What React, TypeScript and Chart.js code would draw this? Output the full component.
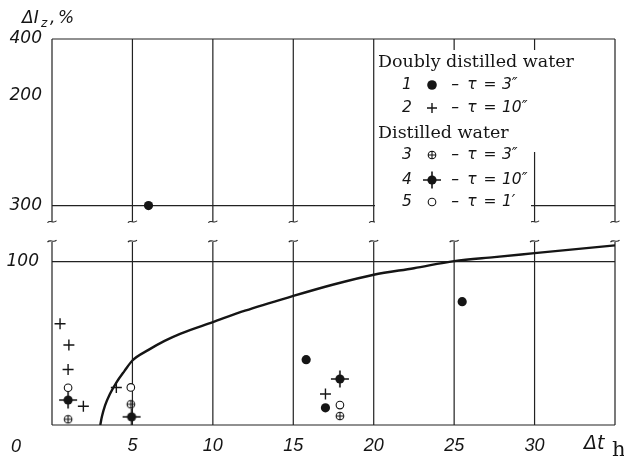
import { useEffect, useRef } from "react";
import { Chart, registerables } from "chart.js";

Chart.register(...registerables);

// ---------- data ----------
const xTickValues = [5, 10, 15, 20, 25, 30];
const gridXValues = [0, 5, 10, 15, 20, 25, 30, 35];
const lowerTickValues = [100];
const lowerTickLabels = ["100"];
const upperTickValues = [300, 366, 400];
const upperTickLabels = ["300", "200", "400"];

const curveX = [3.0, 3.1, 3.3, 3.6, 4.0, 4.5, 5, 6, 7, 8, 10, 12, 15, 17.5, 20, 22.5, 25, 27.5, 30, 35];
const curveY = [0, 5, 12, 19, 26, 33, 39.5, 46, 51.5, 56, 63, 70, 79, 86, 92, 96, 100.3, 102.8, 105.2, 110];

// 1: doubly distilled, tau = 3"
const s1X = [15.8, 17.0, 25.5];
const s1Y = [40, 10.5, 75.5];
const s1UpperX = [6];
const s1UpperY = [300];
// 2: doubly distilled, tau = 10"
const s2X = [0.5, 1.05, 1.0, 1.95, 4.0, 17.0];
const s2Y = [62, 49, 34, 11.5, 23, 19];
// 3: distilled, tau = 3"
const s3X = [1.0, 4.9, 17.9];
const s3Y = [3.5, 12.7, 5.5];
// 4: distilled, tau = 10"
const s4X = [1.0, 4.95, 17.9];
const s4Y = [15.3, 5.0, 28.2];
// 5: distilled, tau = 1'
const s5X = [1.0, 4.9, 17.9];
const s5Y = [22.8, 23, 12.2];

const legendGroups = ["Doubly distilled water", "Distilled water"];
const legendNums = ["1", "2", "3", "4", "5"];
const legendTaus = ["3\u2033", "10\u2033", "3\u2033", "10\u2033", "1\u2032"];

const INK = "#151515";

function pts(xs: number[], ys: number[]) {
  return xs.map((x, i) => ({ x, y: ys[i] }));
}

function makeOPlus(): HTMLCanvasElement {
  const c = document.createElement("canvas");
  c.width = 12;
  c.height = 12;
  const g = c.getContext("2d")!;
  g.strokeStyle = INK;
  g.lineWidth = 1.1;
  g.beginPath();
  g.arc(6, 6, 3.8, 0, Math.PI * 2);
  g.moveTo(2.2, 6);
  g.lineTo(9.8, 6);
  g.moveTo(6, 2.2);
  g.lineTo(6, 9.8);
  g.stroke();
  return c;
}

function makeStar(): HTMLCanvasElement {
  const c = document.createElement("canvas");
  c.width = 20;
  c.height = 20;
  const g = c.getContext("2d")!;
  g.fillStyle = INK;
  g.strokeStyle = INK;
  g.beginPath();
  g.arc(10, 10, 4.6, 0, Math.PI * 2);
  g.fill();
  g.lineWidth = 1.6;
  g.beginPath();
  g.moveTo(1, 10);
  g.lineTo(19, 10);
  g.moveTo(10, 1.5);
  g.lineTo(10, 18.5);
  g.stroke();
  return c;
}

function tilde(ctx: CanvasRenderingContext2D, x: number, y: number) {
  ctx.beginPath();
  ctx.moveTo(x - 4.5, y + 1);
  ctx.bezierCurveTo(x - 2, y - 2.5, x + 1.5, y + 2.5, x + 4.5, y - 1);
  ctx.stroke();
}

export default function App() {
  const ref = useRef<HTMLCanvasElement | null>(null);

  useEffect(() => {
    const canvas = ref.current;
    if (!canvas) return;
    const oplus = makeOPlus();
    const star = makeStar();

    const framePlugin = {
      id: "frame",
      beforeDraw(chart: any) {
        const { ctx } = chart;
        ctx.save();
        ctx.fillStyle = "#fff";
        ctx.fillRect(0, 0, chart.width, chart.height);
        ctx.restore();
      },
      beforeDatasetsDraw(chart: any) {
        const { ctx } = chart;
        const x = chart.scales.x;
        const yUp = chart.scales.yUp;
        const yLow = chart.scales.yLow;
        const xs = gridXValues.map((v) => x.getPixelForValue(v));
        const upTop = yUp.getPixelForValue(400);
        const up300 = yUp.getPixelForValue(300);
        const upBottom = yUp.bottom - 3;
        const lowTop = yLow.getPixelForValue(112);
        const low100 = yLow.getPixelForValue(100);
        const low0 = yLow.getPixelForValue(0);
        const left = xs[0];
        const right = xs[xs.length - 1];
        ctx.save();
        ctx.strokeStyle = "#222";
        ctx.lineWidth = 1.2;
        ctx.beginPath();
        // upper panel
        ctx.moveTo(left, upTop);
        ctx.lineTo(right, upTop);
        ctx.moveTo(left, up300);
        ctx.lineTo(right, up300);
        xs.forEach((px) => {
          ctx.moveTo(px, upTop);
          ctx.lineTo(px, upBottom);
        });
        // lower panel
        ctx.moveTo(left, low100);
        ctx.lineTo(right, low100);
        ctx.moveTo(left, low0);
        ctx.lineTo(right, low0);
        xs.forEach((px) => {
          ctx.moveTo(px, lowTop);
          ctx.lineTo(px, low0);
        });
        ctx.stroke();
        ctx.lineWidth = 1.1;
        xs.forEach((px) => {
          tilde(ctx, px, upBottom);
          tilde(ctx, px, lowTop - 1);
        });
        ctx.restore();
      },
      afterDatasetsDraw(chart: any) {
        const { ctx } = chart;
        ctx.save();
        // legend background
        ctx.fillStyle = "#fff";
        ctx.fillRect(375, 50, 230, 102);
        ctx.fillRect(375, 150, 156, 77);

        ctx.fillStyle = INK;
        ctx.textBaseline = "middle";
        ctx.textAlign = "left";
        ctx.font = "17.5px 'DejaVu Serif'";
        ctx.fillText(legendGroups[0], 378, 62);
        ctx.fillText(legendGroups[1], 378, 133);

        const rowsY = [85, 108, 155, 180, 202];
        ctx.font = "italic 15.5px 'DejaVu Sans'";
        rowsY.forEach((ry, i) => {
          ctx.textAlign = "center";
          ctx.fillText(legendNums[i], 407, ry);
          // marker
          const mx = 432;
          if (i === 0) {
            ctx.beginPath();
            ctx.arc(mx, ry, 4.8, 0, Math.PI * 2);
            ctx.fill();
          } else if (i === 1) {
            ctx.beginPath();
            ctx.lineWidth = 1.4;
            ctx.strokeStyle = INK;
            ctx.moveTo(mx - 5, ry);
            ctx.lineTo(mx + 5, ry);
            ctx.moveTo(mx, ry - 5);
            ctx.lineTo(mx, ry + 5);
            ctx.stroke();
          } else if (i === 2) {
            ctx.drawImage(oplus, mx - 6, ry - 6);
          } else if (i === 3) {
            ctx.drawImage(star, mx - 10, ry - 10);
          } else {
            ctx.beginPath();
            ctx.lineWidth = 1.1;
            ctx.strokeStyle = INK;
            ctx.arc(mx, ry, 3.8, 0, Math.PI * 2);
            ctx.stroke();
          }
          ctx.fillText("\u2013", 455, ry);
          ctx.fillText("\u03c4", 472, ry);
          ctx.fillText("=", 490, ry);
          ctx.textAlign = "left";
          ctx.fillText(legendTaus[i], 502, ry);
        });

        ctx.restore();
      },
      afterDraw(chart: any) {
        const { ctx } = chart;
        ctx.save();
        ctx.fillStyle = INK;
        ctx.textBaseline = "alphabetic";
        ctx.textAlign = "left";
        // y title
        ctx.font = "italic 17px 'DejaVu Sans'";
        ctx.fillText("\u0394I", 22, 23);
        ctx.font = "italic 12px 'DejaVu Sans'";
        ctx.fillText("z", 41, 27);
        ctx.font = "italic 17px 'DejaVu Sans'";
        ctx.fillText(",", 50, 23);
        ctx.fillText("%", 58, 23);
        // origin
        ctx.font = "italic 18px 'Liberation Sans'";
        ctx.textAlign = "center";
        ctx.fillText("0", 16, 452);
        // x title
        ctx.textAlign = "left";
        ctx.font = "italic 19px 'DejaVu Sans'";
        ctx.fillText("\u0394t", 584, 449);
        ctx.font = "21px 'DejaVu Serif'";
        ctx.fillText("h", 612, 456);
        ctx.restore();
      },
    };

    const chart = new Chart(canvas, {
      type: "scatter",
      data: {
        datasets: [
          {
            label: "curve",
            data: pts(curveX, curveY),
            showLine: true,
            borderColor: INK,
            borderWidth: 2.4,
            pointRadius: 0,
            cubicInterpolationMode: "monotone",
            xAxisID: "x",
            yAxisID: "yLow",
          } as any,
          {
            label: "1",
            data: pts(s1X, s1Y),
            pointStyle: "circle",
            pointRadius: 4.6,
            backgroundColor: INK,
            borderColor: INK,
            borderWidth: 0,
            yAxisID: "yLow",
          },
          {
            label: "1 upper",
            data: pts(s1UpperX, s1UpperY),
            pointStyle: "circle",
            pointRadius: 4.6,
            backgroundColor: INK,
            borderColor: INK,
            borderWidth: 0,
            yAxisID: "yUp",
          },
          {
            label: "2",
            data: pts(s2X, s2Y),
            pointStyle: "cross",
            pointRadius: 5.5,
            borderColor: INK,
            borderWidth: 1.4,
            yAxisID: "yLow",
          },
          {
            label: "3",
            data: pts(s3X, s3Y),
            pointStyle: oplus,
            yAxisID: "yLow",
          },
          {
            label: "4",
            data: pts(s4X, s4Y),
            pointStyle: star,
            yAxisID: "yLow",
          },
          {
            label: "5",
            data: pts(s5X, s5Y),
            pointStyle: "circle",
            pointRadius: 3.8,
            backgroundColor: "#fff",
            borderColor: INK,
            borderWidth: 1.1,
            yAxisID: "yLow",
          },
        ],
      },
      options: {
        responsive: false,
        animation: false,
        events: [],
        layout: { padding: { left: 0, right: 9, top: 39, bottom: 0 } },
        plugins: {
          legend: { display: false },
          tooltip: { enabled: false },
          title: { display: false },
        },
        scales: {
          x: {
            type: "linear",
            position: "bottom",
            min: 0,
            max: 35,
            afterBuildTicks: (s: any) => {
              s.ticks = xTickValues.map((v) => ({ value: v }));
            },
            afterFit: (s: any) => {
              s.height = 34;
            },
            ticks: {
              autoSkip: false,
              maxRotation: 0,
              padding: 10,
              color: INK,
              font: { family: "'Liberation Sans'", size: 18, style: "italic" },
              callback: (v: any) => String(v),
            },
            grid: { display: false, drawTicks: false },
            border: { display: false },
          },
          yLow: {
            type: "linear",
            position: "left",
            stack: "panels",
            stackWeight: 200.3,
            weight: 0,
            min: 0,
            max: 122.6,
            afterBuildTicks: (s: any) => {
              s.ticks = lowerTickValues.map((v) => ({ value: v }));
            },
            afterFit: (s: any) => {
              s.width = 52;
            },
            ticks: {
              padding: 13,
              color: INK,
              font: { family: "'DejaVu Sans'", size: 17, style: "italic" },
              callback: (v: any) => lowerTickLabels[lowerTickValues.indexOf(Number(v))] ?? "",
            },
            grid: { display: false, drawTicks: false },
            border: { display: false },
          },
          yUp: {
            type: "linear",
            position: "left",
            stack: "panels",
            stackWeight: 185.8,
            weight: 1,
            min: 288.5,
            max: 400,
            afterBuildTicks: (s: any) => {
              s.ticks = upperTickValues.map((v) => ({ value: v }));
            },
            afterFit: (s: any) => {
              s.width = 52;
            },
            ticks: {
              padding: 10,
              color: INK,
              font: { family: "'DejaVu Sans'", size: 17, style: "italic" },
              callback: (v: any) => upperTickLabels[upperTickValues.indexOf(Number(v))] ?? "",
            },
            grid: { display: false, drawTicks: false },
            border: { display: false },
          },
        },
      } as any,
      plugins: [framePlugin],
    });

    return () => chart.destroy();
  }, []);

  return (
    <div style={{ position: "absolute", left: 0, top: 0, width: 624, height: 459, background: "#fff" }}>
      <canvas ref={ref} width={624} height={459} style={{ width: 624, height: 459, display: "block" }} />
    </div>
  );
}
